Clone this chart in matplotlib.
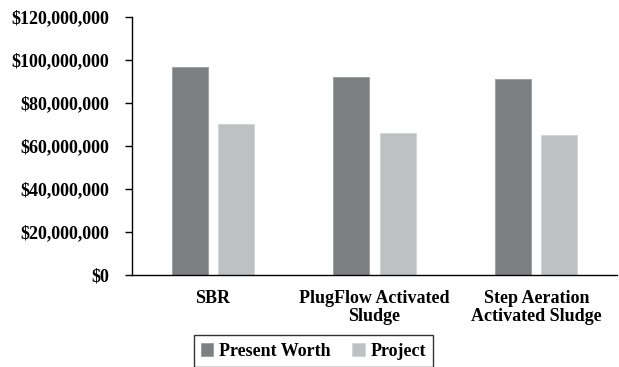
import matplotlib.pyplot as plt
import numpy as np
from matplotlib.ticker import FuncFormatter

# Data
categories = ['SBR', 'PlugFlow Activated\nSludge', 'Step Aeration\nActivated Sludge']
present_worth = [96.7e6, 92.1e6, 91.2e6]
project = [70.2e6, 66.0e6, 65.1e6]

plt.rcParams['font.family'] = 'Liberation Serif'
plt.rcParams['font.weight'] = 'bold'

fig = plt.figure(figsize=(6.19, 3.67), dpi=100)
ax = fig.add_axes([0.213, 0.251, 0.784, 0.703])

x = np.arange(len(categories))
w = 0.222
ax.bar(x - 0.143, present_worth, w, color='#7e7f81', edgecolor='#9a9b9c', linewidth=0.6, label='Present Worth')
ax.bar(x + 0.143, project, w, color='#bfc0c2', edgecolor='#d2d3d4', linewidth=0.6, label='Project')

ax.set_xlim(-0.5, 2.5)
ax.set_ylim(0, 120e6)
ax.set_yticks(np.arange(0, 120e6 + 1, 20e6))
ax.yaxis.set_major_formatter(FuncFormatter(lambda v, p: '${:,.0f}'.format(v)))
ax.set_xticks(x)
ax.set_xticklabels(categories, linespacing=1.1)
ax.tick_params(axis='x', length=0, pad=11, labelsize=13)
ax.tick_params(axis='y', length=5, width=1, direction='out', pad=11, labelsize=13)
for t in ax.get_xticklabels() + ax.get_yticklabels():
    t.set_fontweight('bold')

for s in ['top', 'right']:
    ax.spines[s].set_visible(False)
ax.spines['left'].set_linewidth(1)
ax.spines['bottom'].set_linewidth(1)

leg = fig.legend(loc='center', bbox_to_anchor=(0.506, 0.043), ncol=2, frameon=True,
                 fancybox=False, edgecolor='black', handlelength=0.7, handleheight=0.7,
                 handletextpad=0.3, columnspacing=1.2, borderpad=0.4,
                 prop={'family': 'Liberation Serif', 'weight': 'bold', 'size': 13})
leg.get_frame().set_linewidth(1)

fig.savefig('out.png', dpi=100)
